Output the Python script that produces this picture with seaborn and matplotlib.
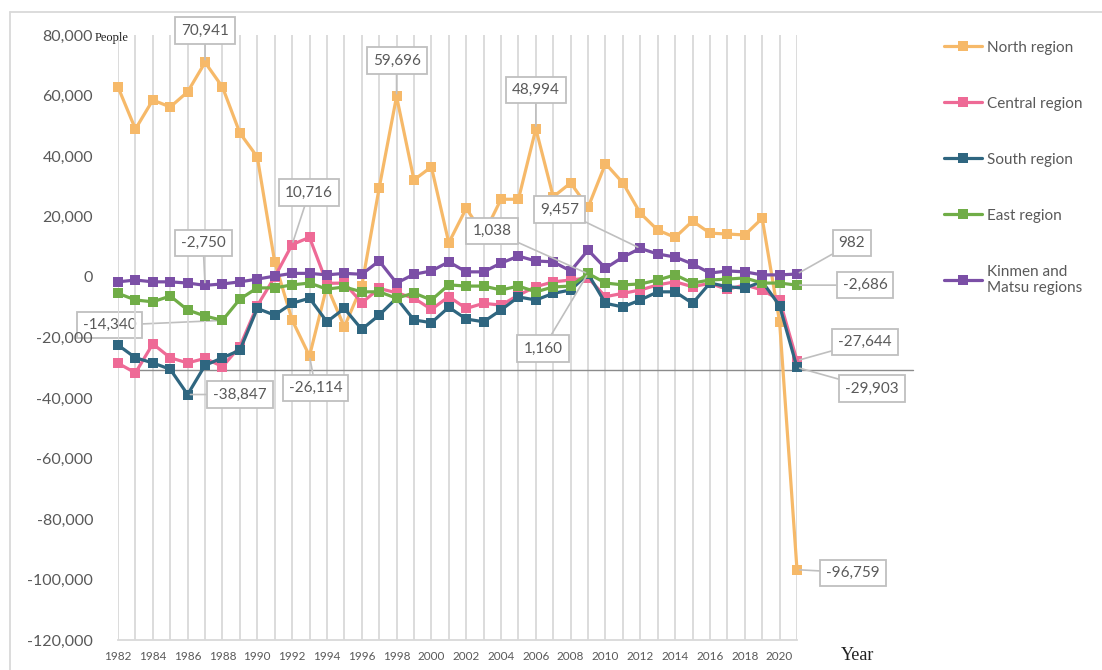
import numpy as np
import pandas as pd
import seaborn as sns
import matplotlib.pyplot as plt
from matplotlib.lines import Line2D

# Net migration by region, 1982-2021 (people)
years = list(range(1982, 2022))
north = [62800, 48900, 58500, 56200, 61200, 70941, 62800, 47600, 39700, 5000,
         -14200, -26114, -3000, -16500, -3000, 29400, 59696, 32100, 36400, 11300,
         22700, 14000, 25700, 25700, 48994, 26500, 31100, 23000, 37500, 31100,
         21100, 15500, 13100, 18500, 14500, 14200, 13900, 19400, -14800, -96759]
central = [-28500, -31700, -22100, -26700, -28400, -26900, -29600, -23000, -9500, 0,
           10716, 13100, -2100, -2000, -8500, -3800, -5200, -7000, -10700, -6500,
           -10400, -8700, -9300, -6000, -3200, -1600, -1000, -300, -6500, -5400,
           -4300, -2600, -1600, -3200, -2100, -4100, -2600, -4300, -7600, -27644]
south = [-22500, -26700, -28400, -30500, -38847, -29200, -26700, -24200, -10400, -12600,
         -8700, -7000, -14800, -10400, -17300, -12600, -7000, -14200, -15100, -10000,
         -13900, -14800, -10900, -6600, -7600, -5400, -4300, 1038, -8700, -9900,
         -7600, -4900, -4900, -8700, -2000, -3200, -3700, -1500, -9500, -29903]
east = [-5400, -7600, -8200, -6300, -10900, -12900, -14340, -7300, -3600, -3600,
        -2600, -2000, -4000, -3300, -4900, -4900, -7000, -5300, -7600, -2600,
        -3000, -3000, -4300, -3000, -4900, -3300, -3000, 1160, -2000, -2600,
        -2300, -1000, 700, -2000, -1000, -700, -300, -2000, -2000, -2686]
kinmen = [-1600, -1000, -1600, -1600, -2000, -2750, -2300, -1600, -700, 300,
          1200, 1200, 700, 1200, 900, 5300, -2000, 900, 2000, 5000,
          1700, 1700, 4600, 6900, 5300, 5000, 2000, 8900, 2900, 6600,
          9457, 7600, 6600, 4300, 1300, 2000, 1700, 700, 700, 982]

regions = ["North region", "Central region", "South region", "East region",
           "Kinmen and\nMatsu regions"]
colors = ["#F6B969", "#EE6A96", "#2F6680", "#70AD47", "#7B4FA6"]

# callouts: (series index, year, pixel offset of the box from the point)
callouts = [
    (0, 1987, (0, 32)), (0, 1998, (0, 36)), (0, 2006, (0, 39)),
    (1, 1992, (17, 52)), (4, 1987, (-2, 42)), (3, 1988, (-113, -5)),
    (2, 1986, (52, 0)), (0, 1993, (6, -32)), (2, 2009, (-96, 43)),
    (4, 2012, (-81, 39)), (3, 2009, (-45, -75)), (4, 2021, (55, 31)),
    (3, 2021, (68, 0)), (1, 2021, (68, 19)), (2, 2021, (75, -21)),
    (0, 2021, (56, -3)),
]

series = [north, central, south, east, kinmen]
df = pd.concat([pd.DataFrame({"Year": years, "People": s, "Region": r})
                for s, r in zip(series, regions)], ignore_index=True)

sns.set_theme(style="white")
plt.rcParams['font.family'] = ['Lato', 'DejaVu Sans']
grey = "#595959"

fig = plt.figure(figsize=(11.02, 6.70), dpi=100)
ax = fig.add_axes([118 / 1102, 1 - 640 / 670, 679 / 1102, 605 / 670])

sns.lineplot(data=df, x="Year", y="People", hue="Region", hue_order=regions,
             palette=colors, marker="s", markersize=7, markeredgewidth=0,
             linewidth=2.3, legend=False, ax=ax, clip_on=False, zorder=3)

ax.set_xlim(1982, 2021)
ax.set_ylim(-120000, 80000)
ax.set_xticks(years, minor=True)
ax.set_xticks(range(1982, 2021, 2))
ax.set_yticks(range(-120000, 80001, 20000))
ax.yaxis.set_major_formatter(plt.FuncFormatter(lambda v, p: f"{int(v):,}"))
ax.grid(False)
ax.grid(True, axis="x", which="both", color="#d9d9d9", lw=1.3)
for side in ["left", "top", "right"]:
    ax.spines[side].set_visible(False)
ax.spines["bottom"].set_color("#d9d9d9")
ax.spines["bottom"].set_linewidth(1.3)
ax.tick_params(axis="y", length=0, pad=18, labelsize=11.5, labelcolor=grey)
ax.tick_params(axis="x", which="both", length=0, pad=8, labelsize=8.5, labelcolor=grey)
ax.set_xlabel("")
ax.set_ylabel("")

# stray horizontal rule around -30,700
ax.axhline(-30700, xmin=0.022, xmax=1.171, color="#8c8c8c", lw=1, clip_on=False, zorder=2)

for idx, yr, off in callouts:
    val = series[idx][years.index(yr)]
    # the -14,340 box sits under the axis artists (tick labels, grid), as in the original
    z = 0.4 if (idx, yr) == (3, 1988) else 6
    ax.annotate(f"{val:,}", xy=(yr, val), xytext=off, textcoords="offset pixels",
                ha="center", va="center", fontsize=11, color=grey, zorder=z,
                annotation_clip=False,
                bbox=dict(boxstyle="square,pad=0.4", fc="white", ec="#bfbfbf", lw=1.3),
                arrowprops=dict(arrowstyle="-", color="#bfbfbf", lw=1.2,
                                shrinkA=0, shrinkB=2))

fig.text(95 / 1102, 1 - 38 / 670, "People", family="Liberation Serif",
         fontsize=9, color="#222222", va="center", ha="left")
fig.text(858 / 1102, 1 - 655 / 670, "Year", family="Liberation Serif",
         fontsize=13, color="#222222", va="center", ha="center")

handles = [Line2D([], [], color=c, lw=2.3, marker="s", markersize=7, markeredgewidth=0)
           for c in colors]
fig.legend(handles, regions, loc="upper left", bbox_to_anchor=(930 / 1102, 1 - 27 / 670),
           frameon=False, fontsize=11, labelcolor=grey, handlelength=2.5,
           handletextpad=0.3, labelspacing=2.75)

# chart border remnants (top and left)
fig.add_artist(Line2D([10 / 1102, 1], [1 - 12 / 670] * 2, color="#d9d9d9", lw=1.3))
fig.add_artist(Line2D([10 / 1102] * 2, [0, 1 - 12 / 670], color="#d9d9d9", lw=1.3))

fig.savefig("out.png", dpi=100)
